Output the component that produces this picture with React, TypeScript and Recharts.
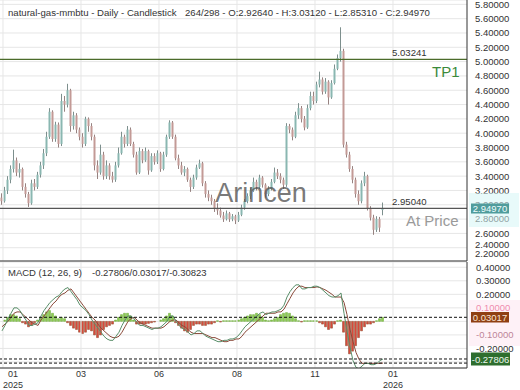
import React from 'react';
import { ComposedChart, Bar, Line, XAxis, YAxis, CartesianGrid, ReferenceLine, Cell } from 'recharts';

const FONT = '"Liberation Sans", Arial, Helvetica, sans-serif';

// ---------- price data (one candle per ~2 trading days) ----------
const opens = [
  3.10, 3.05, 3.20, 3.35, 3.50, 3.62, 3.45, 3.50, 3.25, 3.15,
  3.02, 3.30, 3.25, 3.42, 3.55, 3.72, 3.95, 4.30, 3.92, 4.12,
  3.85, 4.45, 4.40, 4.60, 4.10, 4.25, 4.05, 3.95, 3.85, 4.20,
  4.10, 3.95, 3.55, 3.45, 3.70, 3.40, 3.55, 3.40, 3.35, 3.55,
  3.72, 3.95, 3.85, 4.05, 3.85, 3.70, 3.45, 3.75, 3.62, 3.75,
  3.48, 3.68, 3.60, 3.72, 3.50, 3.70, 3.95, 4.15, 3.95, 3.65,
  3.55, 3.45, 3.50, 3.35, 3.25, 3.38, 3.52, 3.58, 3.30, 3.15,
  3.10, 3.05, 2.95, 2.92, 2.85, 2.80, 2.88, 2.80, 2.84, 2.78,
  2.86, 2.96, 3.05, 3.12, 3.20, 3.32, 3.25, 3.38, 3.28, 3.15,
  3.22, 3.32, 3.45, 3.40, 3.35, 3.28, 4.10, 4.05, 3.95, 4.25,
  4.35, 4.20, 4.08, 4.35, 4.52, 4.45, 4.68, 4.75, 4.58, 4.72,
  4.50, 4.70, 4.90, 5.05, 5.15, 3.84, 3.70, 3.50, 3.35, 3.15,
  3.05, 3.30, 3.40, 2.95, 2.82, 2.65, 2.80, 2.9264,
];
const highs = [
  3.16, 3.25, 3.40, 3.55, 3.77, 3.66, 3.58, 3.52, 3.30, 3.18,
  3.35, 3.36, 3.46, 3.60, 3.78, 4.02, 4.35, 4.32, 4.16, 4.15,
  4.55, 4.52, 4.69, 4.62, 4.30, 4.28, 4.08, 4.00, 4.23, 4.22,
  4.14, 3.98, 3.62, 3.84, 3.74, 3.62, 3.58, 3.46, 3.60, 3.80,
  4.02, 3.98, 4.10, 4.08, 3.88, 3.74, 3.80, 3.78, 3.80, 3.77,
  3.72, 3.72, 3.76, 3.74, 3.74, 3.98, 4.18, 4.17, 3.98, 3.70,
  3.60, 3.54, 3.52, 3.38, 3.42, 3.56, 3.63, 3.60, 3.33, 3.20,
  3.14, 3.08, 3.02, 2.96, 2.90, 2.92, 2.90, 2.87, 2.86, 2.90,
  3.00, 3.08, 3.16, 3.24, 3.38, 3.35, 3.42, 3.40, 3.30, 3.26,
  3.36, 3.52, 3.50, 3.44, 3.38, 4.14, 4.13, 4.08, 4.30, 4.42,
  4.38, 4.24, 4.40, 4.58, 4.58, 4.72, 4.86, 4.78, 4.77, 4.74,
  4.74, 4.96, 5.10, 5.48, 5.18, 3.88, 3.74, 3.54, 3.38, 3.20,
  3.34, 3.46, 3.42, 2.98, 2.86, 2.84, 2.83, 3.0312,
];
const lows = [
  3.00, 3.03, 3.15, 3.30, 3.45, 3.40, 3.38, 3.20, 3.10, 2.97,
  3.00, 3.20, 3.22, 3.38, 3.50, 3.68, 3.92, 3.88, 3.88, 3.80,
  3.82, 4.30, 4.36, 4.02, 4.05, 4.00, 3.90, 3.80, 3.82, 4.02,
  3.90, 3.48, 3.36, 3.42, 3.35, 3.36, 3.35, 3.31, 3.32, 3.52,
  3.70, 3.80, 3.82, 3.82, 3.66, 3.42, 3.43, 3.58, 3.60, 3.42,
  3.46, 3.56, 3.57, 3.46, 3.48, 3.67, 3.92, 3.92, 3.62, 3.50,
  3.42, 3.40, 3.32, 3.18, 3.22, 3.35, 3.50, 3.26, 3.10, 3.05,
  3.00, 2.90, 2.86, 2.82, 2.76, 2.78, 2.76, 2.77, 2.73, 2.76,
  2.84, 2.93, 3.02, 3.08, 3.18, 3.20, 3.22, 3.24, 3.10, 3.12,
  3.20, 3.30, 3.36, 3.30, 3.22, 3.25, 4.00, 3.90, 3.93, 4.20,
  4.15, 4.04, 4.06, 4.32, 4.40, 4.42, 4.64, 4.54, 4.55, 4.40,
  4.48, 4.68, 4.88, 5.00, 3.80, 3.66, 3.46, 3.30, 3.10, 3.00,
  3.02, 3.26, 2.92, 2.78, 2.58, 2.62, 2.62, 2.8531,
];
const closes = [
  3.05, 3.20, 3.35, 3.50, 3.62, 3.45, 3.50, 3.25, 3.15, 3.02,
  3.30, 3.25, 3.42, 3.55, 3.72, 3.95, 4.30, 3.92, 4.12, 3.85,
  4.45, 4.40, 4.60, 4.10, 4.25, 4.05, 3.95, 3.85, 4.20, 4.10,
  3.95, 3.55, 3.45, 3.70, 3.40, 3.55, 3.40, 3.35, 3.55, 3.72,
  3.95, 3.85, 4.05, 3.85, 3.70, 3.45, 3.75, 3.62, 3.75, 3.48,
  3.68, 3.60, 3.72, 3.50, 3.70, 3.95, 4.15, 3.95, 3.65, 3.55,
  3.45, 3.50, 3.35, 3.25, 3.38, 3.52, 3.58, 3.30, 3.15, 3.10,
  3.05, 2.95, 2.92, 2.85, 2.80, 2.88, 2.80, 2.84, 2.78, 2.86,
  2.96, 3.05, 3.12, 3.20, 3.32, 3.25, 3.38, 3.28, 3.15, 3.22,
  3.32, 3.45, 3.40, 3.35, 3.28, 4.10, 4.05, 3.95, 4.25, 4.35,
  4.20, 4.08, 4.35, 4.52, 4.45, 4.68, 4.75, 4.58, 4.72, 4.50,
  4.70, 4.90, 5.05, 5.15, 3.84, 3.70, 3.50, 3.35, 3.15, 3.05,
  3.30, 3.40, 2.95, 2.82, 2.65, 2.80, 2.68, 2.9497,
];

// ---------- MACD (12, 26, 9) ----------
const macdLine = [
  -0.07, -0.03, 0.02, 0.06, 0.10, 0.10, 0.08, 0.04, 0.01, -0.03,
  -0.03, -0.02, -0.01, 0.04, 0.08, 0.11, 0.14, 0.16, 0.18, 0.19,
  0.22, 0.24, 0.25, 0.22, 0.19, 0.16, 0.12, 0.10, 0.08, 0.05,
  0.01, -0.02, -0.05, -0.08, -0.11, -0.13, -0.14, -0.14, -0.11, -0.08,
  -0.03, 0.01, 0.04, 0.04, 0.02, -0.01, -0.03, -0.03, -0.04, -0.05,
  -0.06, -0.05, -0.05, -0.04, -0.02, 0.00, 0.04, 0.04, 0.00, -0.03,
  -0.05, -0.06, -0.08, -0.10, -0.09, -0.07, -0.07, -0.09, -0.11, -0.12,
  -0.13, -0.14, -0.15, -0.15, -0.14, -0.14, -0.13, -0.13, -0.12, -0.10,
  -0.07, -0.04, -0.02, 0.00, 0.02, 0.04, 0.06, 0.07, 0.05, 0.06,
  0.07, 0.07, 0.08, 0.09, 0.12, 0.18, 0.22, 0.25, 0.27, 0.27,
  0.24, 0.24, 0.25, 0.25, 0.26, 0.26, 0.25, 0.23, 0.21, 0.19,
  0.18, 0.18, 0.19, 0.21, 0.06, -0.07, -0.19, -0.29, -0.34, -0.35,
  -0.33, -0.31, -0.31, -0.32, -0.32, -0.31, -0.29, -0.27806,
];
const signalLine = [
  -0.04, -0.02, 0.00, 0.03, 0.06, 0.07, 0.07, 0.05, 0.03, 0.01,
  -0.01, -0.02, -0.03, 0.01, 0.04, 0.07, 0.10, 0.13, 0.15, 0.18,
  0.20, 0.21, 0.23, 0.24, 0.21, 0.18, 0.15, 0.12, 0.09, 0.06,
  0.03, 0.01, -0.02, -0.05, -0.07, -0.09, -0.11, -0.12, -0.12, -0.11,
  -0.08, -0.04, 0.00, 0.02, 0.03, 0.01, -0.01, -0.02, -0.03, -0.04,
  -0.05, -0.05, -0.05, -0.05, -0.04, -0.02, 0.00, 0.01, 0.01, -0.01,
  -0.03, -0.04, -0.06, -0.08, -0.09, -0.09, -0.09, -0.09, -0.10, -0.11,
  -0.12, -0.12, -0.13, -0.14, -0.15, -0.15, -0.14, -0.14, -0.13, -0.13,
  -0.11, -0.08, -0.06, -0.04, -0.02, 0.00, 0.02, 0.04, 0.06, 0.06,
  0.06, 0.06, 0.07, 0.07, 0.09, 0.13, 0.17, 0.21, 0.24, 0.26,
  0.26, 0.25, 0.25, 0.25, 0.25, 0.255, 0.25, 0.24, 0.23, 0.215,
  0.20, 0.18, 0.18, 0.18, 0.14, 0.05, -0.06, -0.15, -0.23, -0.28,
  -0.31, -0.31, -0.31, -0.31, -0.31, -0.31, -0.31, -0.30823,
];
const histogram = [
  0.00, 0.01, 0.03, 0.05, 0.05, 0.04, 0.02, -0.01, -0.02, -0.04,
  -0.03, -0.01, 0.01, 0.03, 0.05, 0.07, 0.08, 0.06, 0.04, 0.02,
  0.03, 0.02, -0.01, -0.03, -0.05, -0.06, -0.08, -0.09, -0.08, -0.06,
  -0.07, -0.10, -0.12, -0.10, -0.06, -0.04, -0.03, -0.02, 0.01, 0.03,
  0.05, 0.06, 0.06, 0.04, 0.01, -0.02, -0.02, -0.02, -0.02, -0.015,
  -0.01, -0.005, 0.00, 0.01, 0.02, 0.04, 0.06, 0.04, -0.01, -0.03,
  -0.05, -0.07, -0.08, -0.06, -0.03, -0.02, -0.02, -0.03, -0.03, -0.02,
  -0.02, -0.01, 0.005, -0.005, 0.005, 0.005, 0.005, 0.005, 0.005, 0.01,
  0.02, 0.03, 0.04, 0.05, 0.05, 0.06, 0.05, 0.03, 0.01, 0.005,
  0.01, 0.02, 0.03, 0.05, 0.06, 0.065, 0.06, 0.04, 0.02, 0.005,
  -0.005, 0.005, 0.005, 0.005, 0.005, 0.005, -0.01, -0.02, -0.04, -0.06,
  -0.05, -0.02, 0.005, 0.01, -0.08, -0.18, -0.24, -0.22, -0.18, -0.12,
  -0.07, -0.04, -0.02, -0.02, -0.01, 0.005, 0.02, 0.03017,
];

// ---------- axes / levels ----------
const tickIndex = [0.333, 26.333, 52.333, 78.333, 104.333, 130.333];
const tickMonth = ['01', '03', '06', '08', '11', '01'];
const tickYear = ['2025', '', '', '', '', '2026'];
const priceTicks = [2.2, 2.4, 2.6, 2.8, 3.0, 3.2, 3.4, 3.6, 3.8, 4.0, 4.2, 4.4, 4.6, 4.8, 5.0, 5.2, 5.4, 5.6, 5.8];
const macdTicks = [-0.3, -0.2, -0.1, 0, 0.1, 0.2, 0.3, 0.4];
const tpLevel = 5.03241;
const atPriceLevel = 2.9504;
const lastClose = 2.9497;
const macdLast = -0.27806;
const histLast = 0.03017;
const signalLast = -0.30823;

const X_DOMAIN: [number, number] = [-0.667, 155];
const PRICE_DOMAIN: [number, number] = [2.2143, 5.861];
const MACD_DOMAIN: [number, number] = [-0.3446, 0.4389];

const candleRows = closes.map((c, i) => ({
  i,
  open: opens[i],
  high: highs[i],
  low: lows[i],
  close: c,
  range: [lows[i], highs[i]],
}));
const macdRows = macdLine.map((m, i) => ({ i, macd: m, signal: signalLine[i], hist: histogram[i] }));

const CandleShape = (props: any) => {
  const { x, y, width, height, payload } = props;
  if (!payload || x == null || y == null) return <g />;
  const top = Math.min(y, y + height);
  const h = Math.abs(height);
  const cx = x + width / 2;
  const span = payload.high - payload.low;
  const k = span > 0 ? h / span : 0;
  const bodyTop = top + (payload.high - Math.max(payload.open, payload.close)) * k;
  const bodyH = Math.max(1, Math.abs(payload.close - payload.open) * k);
  const up = payload.close >= payload.open;
  const col = up ? '#8ab7b1' : '#c39a96';
  return (
    <g>
      <line x1={cx} x2={cx} y1={top} y2={top + h} stroke={up ? '#7d8f8d' : '#968280'} strokeWidth={1} />
      <rect x={cx - 1} y={bodyTop} width={2} height={bodyH} fill={col} />
    </g>
  );
};

const PriceTick = (props: any) => {
  const { y, payload } = props;
  const v = payload.value;
  let yy = y;
  if (v < 2.3) yy = 253.5;
  else if (v < 2.5) yy = 245;
  return (
    <text x={475} y={yy} dy={3.4} fontSize={9.5} fill="#333" fontFamily={FONT}>
      {v.toFixed(5)}
    </text>
  );
};

const MacdTick = (props: any) => {
  const { y, payload } = props;
  const v = payload.value;
  // 0.00000 and -0.30000 sit under the value boxes
  if (Math.abs(v) < 1e-9 || Math.abs(v + 0.3) < 1e-9) return <g />;
  let fill = '#333';
  if (Math.abs(v - 0.1) < 1e-9) fill = '#e0306a';
  if (Math.abs(v + 0.1) < 1e-9) fill = '#7a2040';
  return (
    <text x={476} y={y} dy={3.4} fontSize={9.5} fill={fill} fontFamily={FONT}>
      {v.toFixed(5)}
    </text>
  );
};

const DateTick = (props: any) => {
  const { x, index } = props;
  const idx = index ?? 0;
  const cx = idx === 0 ? x + 10 : x;
  return (
    <g>
      <text x={cx} y={115} textAnchor="middle" fontSize={9} fill="#333" fontFamily={FONT}>
        {tickMonth[idx]}
      </text>
      {tickYear[idx] ? (
        <text x={cx} y={126} textAnchor="middle" fontSize={9} fill="#333" fontFamily={FONT}>
          {tickYear[idx]}
        </text>
      ) : null}
    </g>
  );
};

const LevelLabel = (props: any) => {
  const { viewBox, text, tag, tagColor, tagOffset } = props;
  const vx = viewBox?.x ?? 0;
  const vy = viewBox?.y ?? 0;
  const w = viewBox?.width ?? 467;
  return (
    <g>
      <text x={vx + w - 75} y={vy - 3} fontSize={9.6} fill="#333" fontFamily={FONT}>
        {text}
      </text>
      <text x={vx + w - tagOffset} y={vy + 18} fontSize={15} fill={tagColor} fontFamily={FONT}>
        {tag}
      </text>
    </g>
  );
};

export default function App() {
  return (
    <div style={{ position: 'absolute', left: 0, top: 0, width: 520, height: 390, background: '#fff', overflow: 'hidden' }}>
      <div style={{ position: 'absolute', left: 0, top: 0 }}>
        <ComposedChart width={520} height={262} data={candleRows} margin={{ top: 0, right: 0, bottom: 1, left: 0 }}>
          <CartesianGrid vertical={false} stroke="#e6e6e6" />
          <XAxis type="number" dataKey="i" domain={X_DOMAIN} ticks={tickIndex} allowDataOverflow hide />
          <YAxis
            orientation="right"
            width={53}
            domain={PRICE_DOMAIN}
            ticks={priceTicks}
            interval={0}
            allowDataOverflow
            tick={<PriceTick />}
            tickLine={false}
            axisLine={{ stroke: '#333' }}
          />
          {tickIndex.map((t) => (
            <ReferenceLine key={'v' + t} x={t} stroke="#e6e6e6" />
          ))}
          <ReferenceLine
            y={tpLevel}
            stroke="#4b6b2a"
            strokeWidth={1.2}
            label={<LevelLabel text={tpLevel.toFixed(5)} tag="TP1" tagColor="#3a8a3a" tagOffset={35} />}
          />
          <ReferenceLine
            y={atPriceLevel}
            stroke="#555"
            strokeWidth={1.2}
            label={<LevelLabel text={atPriceLevel.toFixed(5)} tag="At Price" tagColor="#9a9a9a" tagOffset={61} />}
          />
          <ReferenceLine y={PRICE_DOMAIN[0]} stroke="#333" />
          <Bar dataKey="range" shape={CandleShape} barSize={2} isAnimationActive={false} />
        </ComposedChart>
      </div>
      <div style={{ position: 'absolute', left: 0, top: 262 }}>
        <ComposedChart width={520} height={128} data={macdRows} margin={{ top: 0, right: 0, bottom: 0, left: 0 }}>
          <CartesianGrid vertical={false} stroke="#e6e6e6" />
          <XAxis
            type="number"
            dataKey="i"
            domain={X_DOMAIN}
            ticks={tickIndex}
            interval={0}
            allowDataOverflow
            height={22}
            tick={<DateTick />}
            tickLine={false}
            axisLine={{ stroke: '#333' }}
          />
          <YAxis
            orientation="right"
            width={53}
            domain={MACD_DOMAIN}
            ticks={macdTicks}
            interval={0}
            allowDataOverflow
            tick={<MacdTick />}
            tickLine={false}
            axisLine={{ stroke: '#333' }}
          />
          {tickIndex.map((t) => (
            <ReferenceLine key={'m' + t} x={t} stroke="#e6e6e6" />
          ))}
          <Bar dataKey="hist" barSize={2} isAnimationActive={false}>
            {macdRows.map((r, i) => (
              <Cell
                key={i}
                fill={r.hist >= 0 ? '#8ccb4f' : '#d9483a'}
                stroke={r.hist >= 0 ? '#6aa83a' : '#8a4a2a'}
                strokeWidth={0.5}
              />
            ))}
          </Bar>
          <Line dataKey="signal" stroke="#8b4b3b" strokeWidth={1} dot={false} activeDot={false} isAnimationActive={false} />
          <Line dataKey="macd" stroke="#5a8f6a" strokeWidth={1} dot={false} activeDot={false} isAnimationActive={false} />
          <ReferenceLine y={histLast} stroke="#111" strokeDasharray="3 2" />
          <ReferenceLine y={macdLast} stroke="#111" strokeDasharray="3 2" />
          <ReferenceLine y={signalLast} stroke="#111" strokeDasharray="3 2" />
        </ComposedChart>
      </div>
      <svg width={520} height={390} style={{ position: 'absolute', left: 0, top: 0, pointerEvents: 'none' }}>
        <text x={8} y={16} fontSize={9.6} fill="#333" fontFamily={FONT}>
          natural-gas-mmbtu - Daily - Candlestick
        </text>
        <text x={185} y={16} fontSize={9.6} fill="#333" fontFamily={FONT}>
          264/298 - O:2.92640 - H:3.03120 - L:2.85310 - C:2.94970
        </text>
        <text x={261} y={202} textAnchor="middle" fontSize={27} fill="#555" fillOpacity={0.8} fontFamily={FONT}>
          Arincen
        </text>
        <text x={8} y={276} fontSize={9.5} fill="#333" fontFamily={FONT}>
          MACD (12, 26, 9)
        </text>
        <text x={92} y={276} fontSize={9.5} fill="#333" fontFamily={FONT}>
          {macdLast.toFixed(5)}/{histLast.toFixed(5)}/{signalLast.toFixed(5)}
        </text>
        {/* current price label on axis */}
        <rect x={469} y={193} width={50} height={34} fill="#d6f5f5" fillOpacity={0.55} />
        <rect x={471} y={203.5} width={38} height={10} fill="#4f9c9c" />
        <text x={490} y={212} textAnchor="middle" fontSize={9.5} fill="#eefcfc" fontFamily={FONT}>
          {lastClose.toFixed(5)}
        </text>
        {/* MACD value labels */}
        <rect x={469} y={300} width={51} height={46} fill="#fde3ef" fillOpacity={0.5} />
        <rect x={471} y={312} width={38} height={10.5} fill="#8f3f12" />
        <text x={490} y={320.5} textAnchor="middle" fontSize={9.5} fill="#fbe6d6" fontFamily={FONT}>
          {histLast.toFixed(5)}
        </text>
        <rect x={471} y={352.5} width={39} height={13} fill="#2e6e2e" />
        <text x={490.5} y={362.5} textAnchor="middle" fontSize={9.5} fill="#eef8ee" fontFamily={FONT}>
          {macdLast.toFixed(5)}
        </text>
      </svg>
    </div>
  );
}
